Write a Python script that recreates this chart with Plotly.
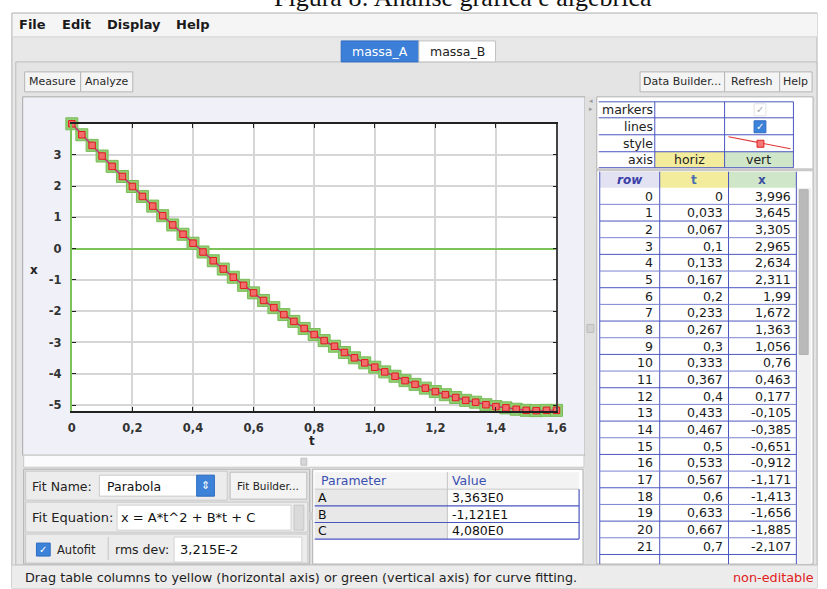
import plotly.graph_objects as go

# ---------------- data ----------------
t_vals = [0, 0.033, 0.067, 0.1, 0.133, 0.167, 0.2, 0.233, 0.267, 0.3, 0.333, 0.367,
          0.4, 0.433, 0.467, 0.5, 0.533, 0.567, 0.6, 0.633, 0.667, 0.7, 0.733, 0.767,
          0.8, 0.833, 0.867, 0.9, 0.933, 0.967, 1.0, 1.033, 1.067, 1.1, 1.133, 1.167,
          1.2, 1.233, 1.267, 1.3, 1.333, 1.367, 1.4, 1.433, 1.467, 1.5, 1.533, 1.567, 1.6]
x_vals = [3.996, 3.645, 3.305, 2.965, 2.634, 2.311, 1.99, 1.672, 1.363, 1.056, 0.76, 0.463,
          0.177, -0.105, -0.385, -0.651, -0.912, -1.171, -1.413, -1.656, -1.885, -2.107,
          -2.325, -2.55, -2.745, -2.94, -3.12, -3.32, -3.49, -3.65, -3.79, -3.94, -4.08,
          -4.22, -4.34, -4.46, -4.57, -4.67, -4.76, -4.85, -4.91, -4.99, -5.05, -5.09,
          -5.135, -5.17, -5.18, -5.17, -5.17]
row_ids = list(range(len(t_vals)))

x_ticks = [0, 0.2, 0.4, 0.6, 0.8, 1.0, 1.2, 1.4, 1.6]
x_ticktext = ["0", "0,2", "0,4", "0,6", "0,8", "1,0", "1,2", "1,4", "1,6"]
y_ticks = [-5, -4, -3, -2, -1, 0, 1, 2, 3]
y_ticktext = ["-5", "-4", "-3", "-2", "-1", "0", "1", "2", "3"]

param_names = ["A", "B", "C"]
param_values = ["3,363E0", "-1,121E1", "4,080E0"]

# ---------------- helpers ----------------
W, H = 827, 589
def X(px): return px / W
def Y(py): return 1 - py / H

def fmt(v):
    s = f"{v:.3f}".rstrip("0").rstrip(".")
    if s in ("-0", ""):
        s = "0"
    return s.replace(".", ",")

shapes = []
annotations = []

def rect(x0, y0, x1, y1, fill, line=None, lw=1, layer="below"):
    shapes.append(dict(type="rect", xref="paper", yref="paper",
                       x0=X(x0), x1=X(x1), y0=Y(y1), y1=Y(y0),
                       fillcolor=fill, layer=layer,
                       line=dict(color=line if line else fill, width=lw if line else 0)))

def hline(x0, x1, y, color, lw=1, layer="below"):
    shapes.append(dict(type="line", xref="paper", yref="paper", x0=X(x0), x1=X(x1),
                       y0=Y(y), y1=Y(y), line=dict(color=color, width=lw), layer=layer))

def vline(x, y0, y1, color, lw=1, layer="below"):
    shapes.append(dict(type="line", xref="paper", yref="paper", x0=X(x), x1=X(x),
                       y0=Y(y0), y1=Y(y1), line=dict(color=color, width=lw), layer=layer))

def text(s, x, y, size=12, color="#222", xa="left", ya="middle", family="DejaVu Sans", weight="normal"):
    annotations.append(dict(text=s, x=X(x), y=Y(y), xref="paper", yref="paper",
                            xanchor=xa, yanchor=ya, showarrow=False, borderpad=0,
                            font=dict(size=size, color=color, family=family, weight=weight)))

UI = "DejaVu Sans"

# ---------------- window chrome ----------------
rect(8, 13, 827, 589, "#e8e8e8", "#b5b5b5")
rect(9, 14, 827, 37, "#f5f5f5")
hline(9, 827, 37, "#d0d0d0")
text("File", 14, 25, 13, "#1a1a1a", family=UI, weight="bold")
text("Edit", 58, 25, 13, "#1a1a1a", family=UI, weight="bold")
text("Display", 104, 25, 13, "#1a1a1a", family=UI, weight="bold")
text("Help", 174, 25, 13, "#1a1a1a", family=UI, weight="bold")

# tab panel
rect(12, 62, 827, 566, "#e4e4e4", "#bdbdbd")
rect(343, 41, 422, 62, "#3b7fd9", "#2f6cc2")
rect(422, 41, 500, 62, "#ffffff", "#c2c2c2")
text("massa_A", 382, 52, 12.5, "#ffffff", xa="center", family=UI)
text("massa_B", 461, 52, 12.5, "#222222", xa="center", family=UI)

# toolbar
for (a, b, lab) in [(21, 78, "Measure"), (78, 131, "Analyze"),
                    (647, 733, "Data Builder..."), (733, 789, "Refresh"), (789, 822, "Help")]:
    rect(a, 72, b, 92, "#f4f4f4", "#b6b6b6")
    text(lab, (a + b) / 2, 82, 11, "#2a2a2a", xa="center", family=UI)

# plot panel
rect(19, 97, 591, 456, "#f0f1f8", "#a9a9a9")
rect(69, 124, 562, 411.5, "#ffffff")
rect(20, 456, 590, 468, "#fbfbfd", "#c9c9c9")
rect(302, 459, 308, 466, "#d6d6d6", "#c0c0c0")

# fit panel
rect(20, 470, 311, 565, "#e2e2e2", "#b0b0b0")
rect(22, 472, 227, 501, "#ececec", "#c9c9c9")
rect(230, 473, 308, 500, "#f3f3f3", "#bdbdbd")
rect(22, 503, 309, 533, "#ececec", "#c9c9c9")
rect(22, 535, 309, 564, "#ececec", "#c9c9c9")
text("Fit Name:", 27, 487, 12.5, "#222", family=UI)
rect(97, 476, 214, 497, "#ffffff", "#c9c9c9")
rect(196, 476, 214, 497, "#3b82d8", "#2f6cc2")
text("⇕", 205, 486.5, 11, "#ffffff", xa="center", family=UI)
text("Parabola", 104, 487, 12.5, "#111", family=UI)
text("Fit Builder...", 269, 487, 10.5, "#222", xa="center", family=UI)
text("Fit Equation:", 27, 518, 13, "#222", family=UI)
rect(115, 506, 292, 531, "#ffffff", "#d2d2d2")
rect(295, 506, 305, 531, "#dadada", "#c6c6c6")
text("x = A*t^2 + B*t + C", 118, 518.5, 13, "#111", family=UI)
rect(33, 544, 47, 557, "#3b82d8", "#2f6cc2")
text("✓", 40, 550.5, 10, "#ffffff", xa="center", family=UI, weight="bold")
text("Autofit", 53, 550.5, 11.5, "#222", family=UI)
vline(106, 538, 561, "#c4c4c4")
text("rms dev:", 112, 550.5, 12.5, "#222", family=UI)
rect(173, 538, 303, 563, "#ffffff", "#d2d2d2")
text("3,215E-2", 178, 550.5, 13, "#111", family=UI)

# parameter panel (table drawn from the parameter lists)
rect(314, 470, 589, 565, "#ffffff", "#b0b0b0")
rect(310, 513, 314, 521, "#d0d0d0")
rect(316, 473, 585, 490, "#f3f3f3")
rect(316, 490, 451, 540, "#e8e8e8")
vline(451, 473, 540, "#c4c4c4")
hline(316, 585, 490, "#c8c8c8")
text("Parameter", 321, 481.5, 12.5, "#3a4fb0", family=UI)
text("Value", 455, 481.5, 12.5, "#3a4fb0", family=UI)
for i, (nm, val) in enumerate(zip(param_names, param_values)):
    yc = 498.5 + 16.7 * i
    text(nm, 318, yc, 12.5, "#111", family=UI)
    text(val, 455, yc, 12.5, "#111", family=UI)
    hline(316, 585, 490 + 16.7 * (i + 1), "#4a56c0", 1.2)
vline(585, 490, 540, "#4a56c0", 1.2)

# splitter + right panel
rect(591, 97, 603, 565, "#e0e0e0")
text("◂", 597, 101, 7, "#999", xa="center", family=UI)
text("▸", 597, 109, 7, "#999", xa="center", family=UI)
rect(593, 325, 600, 333, "#d2d2d2", "#bbbbbb")
rect(603, 97, 823, 565, "#ffffff", "#b0b0b0")

# property block
rect(662, 152, 733, 168, "#f3ec9c")
rect(733, 152, 803, 168, "#cfe7c8")
for yy in (102, 118, 135, 152, 168):
    hline(605, 803, yy, "#4a56c0", 1)
for xx in (662, 733, 803):
    vline(xx, 102, 168, "#4a56c0", 1)
text("markers", 661, 110, 12.5, "#222", xa="right", family=UI)
text("lines", 661, 127, 12.5, "#222", xa="right", family=UI)
text("style", 661, 144, 12.5, "#222", xa="right", family=UI)
text("axis", 661, 160, 12.5, "#222", xa="right", family=UI)
text("horiz", 697.5, 160, 12.5, "#222", xa="center", family=UI)
text("vert", 768, 160, 12.5, "#222", xa="center", family=UI)
rect(763, 104, 775, 116, "#ffffff", "#e2e2e2")
text("✓", 769, 110, 10, "#aaaaaa", xa="center", family=UI)
rect(763, 121, 775, 133, "#3b82d8", "#2f6cc2")
text("✓", 769, 127, 10, "#ffffff", xa="center", family=UI, weight="bold")
shapes.append(dict(type="line", xref="paper", yref="paper", x0=X(737), y0=Y(137),
                   x1=X(800), y1=Y(149), line=dict(color="#e03434", width=1.2), layer="below"))
rect(766, 140.5, 773, 147.5, "#f47a7a", "#e02020")
rect(603, 168.5, 823, 171.5, "#c9c9c9")

# data table (header + visible rows drawn from the data lists)
rect(606, 172, 667, 188, "#e2e2f3")
rect(667, 172, 737, 188, "#f3ec9c")
rect(737, 172, 806, 188, "#cfe7c8")
text("<i>row</i>", 636.5, 180, 12, "#3c3fa6", xa="center", family=UI, weight="bold")
text("t", 702, 180, 12, "#4a6fb0", xa="center", family=UI, weight="bold")
text("x", 771.5, 180, 12, "#3a4fa0", xa="center", family=UI, weight="bold")
ROW_H = 16.7
visible = 22
for xx in (606, 667, 737, 806):
    vline(xx, 172, 565, "#4a56c0", 1)
for i in range(visible):
    yc = 196.5 + ROW_H * i
    text(str(row_ids[i]), 661, yc, 12.5, "#1a1a1a", xa="right", family=UI)
    text(fmt(t_vals[i]), 732, yc, 12.5, "#1a1a1a", xa="right", family=UI)
    text(fmt(x_vals[i]), 802, yc, 12.5, "#1a1a1a", xa="right", family=UI)
    hline(606, 806, 188 + ROW_H * (i + 1), "#4a56c0" if i % 2 else "#7a84d2", 1)

# scrollbar of data table
rect(807, 188, 821, 565, "#f1f1f1")
rect(809, 190, 818, 355, "#b9b9b9", "#b0b0b0")

# status bar
rect(8, 566, 827, 589, "#ececec")
hline(8, 827, 566, "#c4c4c4")
text("Drag table columns to yellow (horizontal axis) or green (vertical axis) for curve fitting.",
     20, 578, 12.8, "#1e1e1e", family=UI)
text("non-editable", 825, 578, 12.8, "#e02020", xa="right", family=UI)

# title (cropped at the top of the page)
text("Figura 8: Análise gráfica e algébrica", 467, 13, 26, "#111", xa="center", ya="bottom",
     family="Liberation Serif")

# axis titles
text("t", 313, 442, 12, "#222", xa="center", family=UI, weight="bold")
text("x", 31, 270, 12, "#222", xa="center", family=UI, weight="bold")

# ---------------- figure ----------------
fig = go.Figure()

fig.add_trace(go.Scatter(x=t_vals, y=x_vals, mode="markers", cliponaxis=False,
                         marker=dict(symbol="square", size=12, color="#92cf74",
                                     line=dict(color="#79bb58", width=1)),
                         hoverinfo="skip", showlegend=False))
fig.add_trace(go.Scatter(x=t_vals, y=x_vals, mode="lines+markers", cliponaxis=False,
                         line=dict(color="#c2337e", width=1.5),
                         marker=dict(symbol="square", size=6.5, color="#f26c6c",
                                     line=dict(color="#e01c1c", width=1)),
                         showlegend=False))
fig.add_trace(go.Scatter(x=t_vals[:1], y=x_vals[:1], yaxis="y2", mode="markers",
                         marker=dict(opacity=0), hoverinfo="skip", showlegend=False))

fig.update_layout(
    width=W, height=H, margin=dict(l=0, r=0, t=0, b=0),
    paper_bgcolor="#ffffff", plot_bgcolor="rgba(0,0,0,0)",
    shapes=shapes, annotations=annotations, showlegend=False,
    xaxis=dict(domain=[X(69), X(562)], range=[0, 1.6], tickvals=x_ticks, ticktext=x_ticktext,
               showgrid=True, gridcolor="#d6d6d6", gridwidth=1.5, zeroline=False,
               showline=True, linecolor="#222", linewidth=2, mirror="ticks",
               ticks="inside", ticklen=4, tickcolor="#222", ticklabelstandoff=5,
               tickfont=dict(family=UI, size=11.5, color="#333", weight="bold")),
    yaxis=dict(domain=[Y(411.5), Y(124)], range=[-5.185, 3.996], tickvals=y_ticks,
               ticktext=y_ticktext, showgrid=True, gridcolor="#d6d6d6", gridwidth=1.5,
               zeroline=True, zerolinecolor="#7cc35a", zerolinewidth=1.5,
               showline=True, linecolor="#7cc35a", linewidth=2,
               ticks="inside", ticklen=4, tickcolor="#222", ticklabelstandoff=6,
               tickfont=dict(family=UI, size=11.5, color="#333", weight="bold")),
    yaxis2=dict(overlaying="y", side="right", anchor="x", range=[-5.185, 3.996],
                tickvals=y_ticks, showticklabels=False, showgrid=False, zeroline=False,
                showline=True, linecolor="#444", linewidth=1.5,
                ticks="inside", ticklen=4, tickcolor="#222"),
)

fig.write_html("out.html", config={"displayModeBar": False},
               post_script="document.body.style.margin='0px';document.body.style.overflow='hidden';")
